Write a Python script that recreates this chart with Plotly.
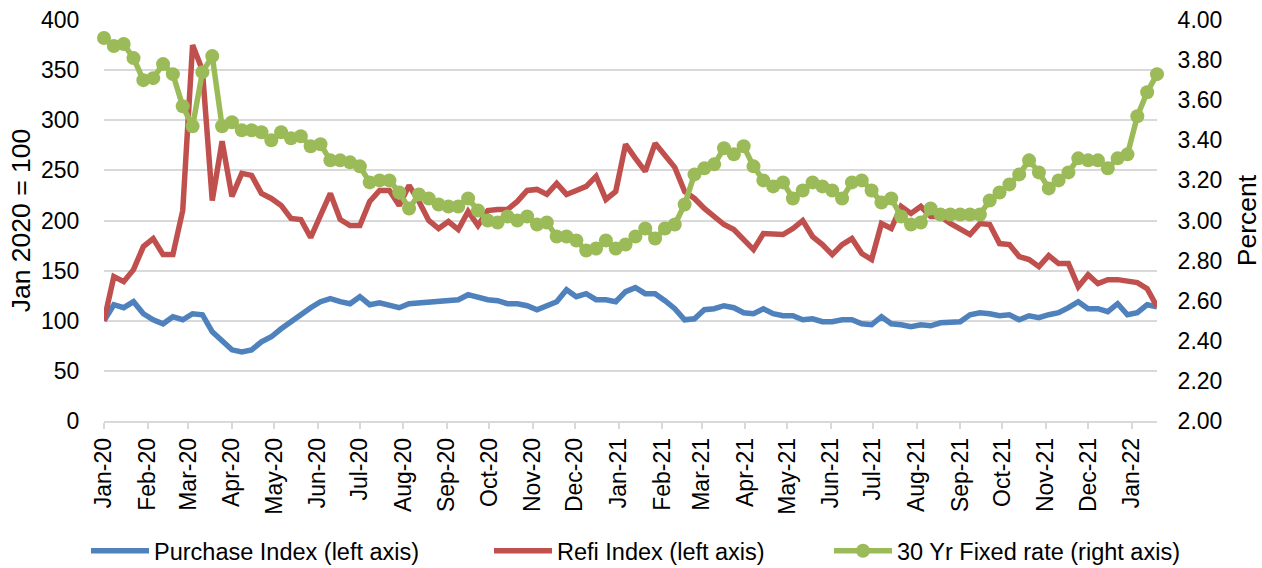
import pandas as pd
import plotly.graph_objects as go

# ---- data (weekly, week ending Fridays) ----
start_date = "2020-01-03"
n_weeks = 108

purchase_index = [
    100, 116, 113, 119, 107, 101, 97, 104, 101, 107,
    106, 89, 80, 71, 69, 71, 79, 84, 92, 99,
    107, 113, 119, 122, 119, 117, 124, 116, 118, 116,
    113, 117, 118, 119, 119, 121, 121, 126, 123, 121,
    120, 117, 117, 115, 111, 115, 119, 131, 124, 127,
    121, 121, 119, 129, 133, 127, 127, 120, 112, 101,
    102, 111, 112, 115, 113, 108, 107, 112, 107, 105,
    105, 101, 102, 99, 99, 101, 101, 97, 96, 104,
    97, 96, 94, 96, 95, 98, 99, 99, 106, 108,
    107, 105, 106, 101, 105, 103, 106, 108, 113, 119,
    112, 112, 109, 117, 106, 108, 116, 114,
]

refi_index = [
    100, 144, 139, 151, 174, 182, 166, 166, 210, 375,
    350, 220, 279, 224, 247, 245, 227, 222, 215, 202,
    201, 183, 205, 227, 201, 195, 195, 219, 230, 230,
    215, 235, 219, 200, 192, 199, 191, 209, 195, 210,
    211, 211, 219, 230, 231, 226, 237, 226, 230, 234,
    244, 221, 229, 276, 262, 249, 277, 265, 253, 229,
    222, 212, 204, 196, 191, 181, 171, 187, 186, 186,
    192, 200, 184, 176, 166, 176, 182, 167, 161, 197,
    192, 214, 207, 214, 204, 204, 197, 192, 186, 197,
    196, 177, 176, 164, 161, 154, 165, 157, 157, 134,
    146, 137, 141, 141, 139, 138, 132, 114,
]

fixed_rate_30yr = [
    3.91, 3.87, 3.88, 3.81, 3.70, 3.71, 3.78, 3.73, 3.57, 3.47,
    3.74, 3.82, 3.47, 3.49, 3.45, 3.45, 3.44, 3.40, 3.44, 3.41,
    3.42, 3.37, 3.38, 3.30, 3.30, 3.29, 3.27, 3.19, 3.20, 3.20,
    3.14, 3.06, 3.13, 3.11, 3.08, 3.07, 3.07, 3.11, 3.05, 3.00,
    2.99, 3.02, 3.00, 3.02, 2.98, 2.99, 2.92, 2.92, 2.90, 2.85,
    2.86, 2.90, 2.86, 2.88, 2.92, 2.96, 2.91, 2.96, 2.98, 3.08,
    3.23, 3.26, 3.28, 3.36, 3.33, 3.37, 3.27, 3.20, 3.17, 3.19,
    3.11, 3.15, 3.19, 3.17, 3.15, 3.11, 3.19, 3.20, 3.15, 3.09,
    3.11, 3.02, 2.98, 2.99, 3.06, 3.03, 3.03, 3.03, 3.03, 3.03,
    3.10, 3.14, 3.18, 3.23, 3.30, 3.24, 3.16, 3.20, 3.24, 3.31,
    3.30, 3.30, 3.26, 3.31, 3.33, 3.52, 3.64, 3.73,
]

tick_labels = [
    "Jan-20", "Feb-20", "Mar-20", "Apr-20", "May-20", "Jun-20", "Jul-20",
    "Aug-20", "Sep-20", "Oct-20", "Nov-20", "Dec-20",
    "Jan-21", "Feb-21", "Mar-21", "Apr-21", "May-21", "Jun-21", "Jul-21",
    "Aug-21", "Sep-21", "Oct-21", "Nov-21", "Dec-21", "Jan-22",
]

series_names = [
    "Purchase Index (left axis)",
    "Refi Index (left axis)",
    "30 Yr Fixed rate (right axis)",
]

dates = pd.date_range(start_date, periods=n_weeks, freq="7D")
tick_dates = [pd.Timestamp(start_date) + pd.DateOffset(months=k) for k in range(len(tick_labels))]

BLUE = "#4F81BD"
RED = "#C0504D"
GREEN = "#9BBB59"
GRID = "#D9D9D9"
FONT = "Liberation Sans, Arial, sans-serif"
FS_TICK = 23
FS_TITLE = 26.5
FS_LEG = 23.5

fig = go.Figure()
fig.add_trace(go.Scatter(x=dates, y=purchase_index, name=series_names[0], mode="lines",
                         line=dict(color=BLUE, width=5.5), yaxis="y", legendwidth=330))
fig.add_trace(go.Scatter(x=dates, y=refi_index, name=series_names[1], mode="lines",
                         line=dict(color=RED, width=5.5), yaxis="y", legendwidth=267))
fig.add_trace(go.Scatter(x=dates, y=fixed_rate_30yr, name=series_names[2], mode="lines+markers",
                         line=dict(color=GREEN, width=5.5), marker=dict(color=GREEN, size=14),
                         yaxis="y2", cliponaxis=False))

fig.update_layout(
    template="none",
    width=1262, height=568,
    margin=dict(l=104, r=105, t=20, b=147, autoexpand=False),
    paper_bgcolor="white", plot_bgcolor="white",
    font=dict(family=FONT, size=FS_TICK, color="#000000"),
    showlegend=True,
    legend=dict(orientation="h", x=(86 - 104) / 1053, xanchor="left", y=-0.324, yanchor="middle",
                font=dict(size=FS_LEG), bgcolor="rgba(0,0,0,0)", itemwidth=58,
                borderwidth=0),
    xaxis=dict(
        type="date", range=[dates[0], dates[-1]], automargin=False,
        tickmode="array", tickvals=tick_dates, ticktext=tick_labels,
        tickangle=-90, ticks="outside", ticklen=6, tickcolor=GRID, tickwidth=1.5,
        showline=True, linecolor=GRID, linewidth=1.5, showgrid=False, zeroline=False,
        tickfont=dict(size=FS_TICK),
    ),
    yaxis=dict(
        range=[0, 400], dtick=50, tick0=0, automargin=False,
        showgrid=True, gridcolor=GRID, gridwidth=1.5, zeroline=False, showline=False,
        ticks="outside", ticklen=19, tickcolor="rgba(0,0,0,0)",
        title=dict(text="Jan 2020 = 100", font=dict(size=FS_TITLE), standoff=2),
        tickfont=dict(size=FS_TICK),
    ),
    yaxis2=dict(
        range=[2, 4], dtick=0.2, tick0=2, tickformat=".2f", automargin=False,
        overlaying="y", side="right", showgrid=False, zeroline=False, showline=False,
        ticks="outside", ticklen=15, tickcolor="rgba(0,0,0,0)",
        title=dict(text="Percent", font=dict(size=FS_TITLE), standoff=16),
        tickfont=dict(size=FS_TICK),
    ),
)

fig.write_html("out.html")
